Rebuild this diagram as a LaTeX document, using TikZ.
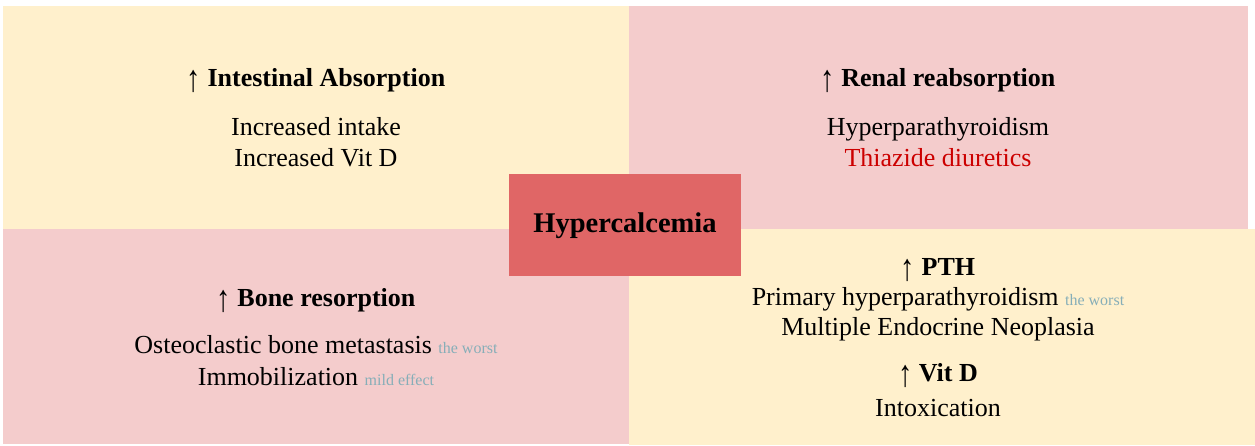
\documentclass[tikz,border=0pt]{standalone}
\usepackage{fontspec}
\usepackage{graphicx}
\setmainfont{Liberation Serif}
\definecolor{cream}{HTML}{FFF0CC}
\definecolor{pinkq}{HTML}{F4CCCC}
\definecolor{redbox}{HTML}{E06666}
\definecolor{redtxt}{HTML}{CC0000}
\definecolor{note}{HTML}{86AEB8}
\newcommand{\uparr}{{\mdseries\raisebox{-0.2em}{\scalebox{1.1}[1.45]{↑}}}}
\newcommand{\notetext}[1]{{\fontsize{16}{18}\selectfont\color{note}#1}}
\begin{document}
\begin{tikzpicture}[x=1pt,y=-1pt,
  hd/.style={anchor=base, font=\fontsize{26}{30}\selectfont\bfseries, inner sep=0pt},
  bd/.style={anchor=base, font=\fontsize{26}{30}\selectfont, inner sep=0pt}]
\useasboundingbox (0,0) rectangle (1255,445);
\fill[cream] (3,6) rectangle (629,229);
\fill[pinkq] (629,6) rectangle (1248,229);
\fill[pinkq] (3,229) rectangle (629,444);
\fill[cream] (629,229) rectangle (1255,445);

% top left
\node[hd] (tlh) at (316,86.7) {\uparr{} Intestinal Absorption};
\node[bd] (tl1) at (316,135) {Increased intake};
\node[bd] (tl2) at (316,166) {Increased Vit D};

% top right
\node[hd] (trh) at (938,86.7) {\uparr{} Renal reabsorption};
\node[bd] (tr1) at (938,135) {Hyperparathyroidism};
\node[bd, text=redtxt] (tr2) at (938,166) {Thiazide diuretics};

% bottom left
\node[hd] (blh) at (316,306.5) {\uparr{} Bone resorption};
\node[bd] (bl1) at (316,353.3) {Osteoclastic bone metastasis \notetext{the worst}};
\node[bd] (bl2) at (316,385) {Immobilization \notetext{mild effect}};

% bottom right
\node[hd] (brh) at (938,275) {\uparr{} PTH};
\node[bd] (br1) at (938,305) {Primary hyperparathyroidism \notetext{the worst}};
\node[bd] (br2) at (938,335) {Multiple Endocrine Neoplasia};
\node[hd] (brh2) at (938,381.7) {\uparr{} Vit D};
\node[bd] (br3) at (938,416.7) {Intoxication};

% centre
\fill[redbox] (509,174) rectangle (741,276);
\node[hd, font=\fontsize{28.5}{32}\selectfont\bfseries] (hyp) at (625,232.7) {Hypercalcemia};
\end{tikzpicture}
\end{document}
